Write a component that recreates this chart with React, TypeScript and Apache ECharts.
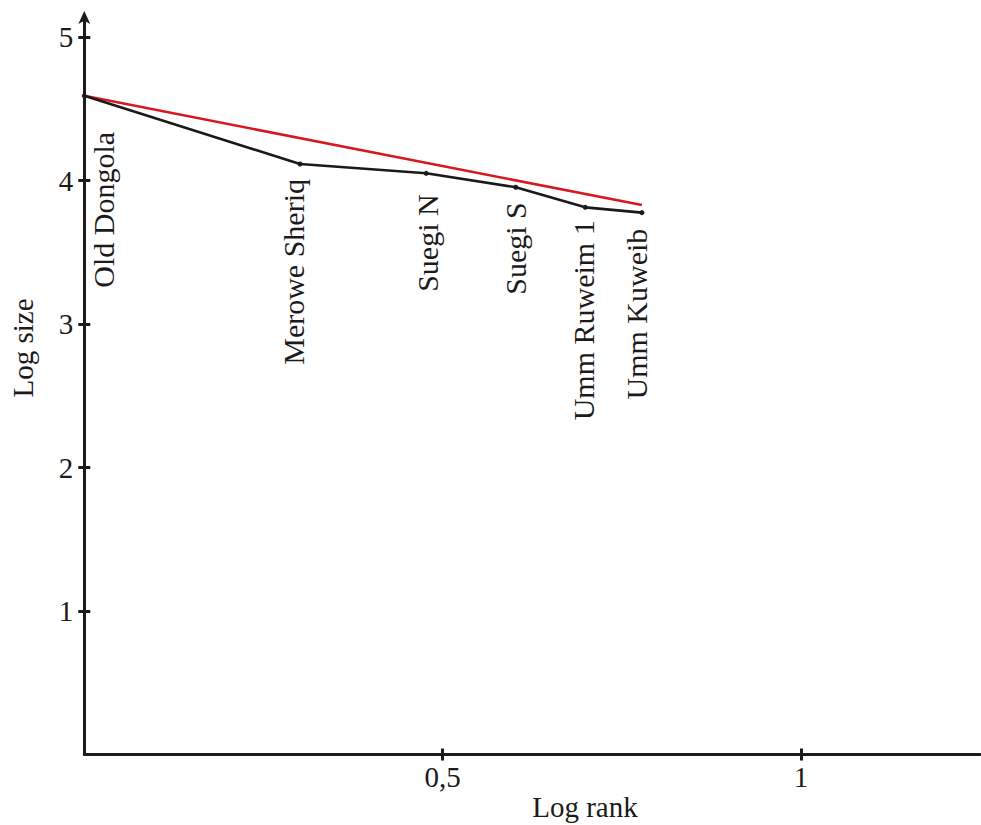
import React, { useEffect, useRef } from "react";
import * as echarts from "echarts";

// ---- data ----
const siteNames = ["Old Dongola", "Merowe Sheriq", "Suegi N", "Suegi S", "Umm Ruweim 1", "Umm Kuweib"];
const logRank = [0, 0.301, 0.477, 0.602, 0.699, 0.778];
const logSize = [4.59, 4.115, 4.05, 3.953, 3.813, 3.776];
const fitLineX = [0, 0.778];
const fitLineY = [4.59, 3.829];
const xTickValues = [0.5, 1];
const xTickLabels = ["0,5", "1"];
const yTickValues = [1, 2, 3, 4, 5];
const xAxisTitle = "Log rank";
const yAxisTitle = "Log size";

// ---- layout (label offsets from their point, in px) ----
const labelOffsets: [number, number][] = [
  [19, 36],
  [-6.5, 15],
  [1, 21],
  [0, 15],
  [-2, 13],
  [-5.5, 16],
];

const FONT = "Liberation Serif";
const INK = "#1c1a1b";
const FS = 29;
const LABEL_FS = 30;

export default function App() {
  const ref = useRef<HTMLDivElement>(null);
  useEffect(() => {
    if (!ref.current) return;
    const chart = echarts.init(ref.current, null, { renderer: "svg" });
    const gridLeft = 84.3;
    const gridRight = 981 - (84.3 + 716.7 * 1.25);
    const yMax = 5.14;
    const gridBottom = 825 - 754.5;
    const gridTop = 754.5 - 143.5 * yMax;

    const pointData = logRank.map((x, i) => [x, logSize[i]]);
    const fitData = fitLineX.map((x, i) => [x, fitLineY[i]]);

    const option: any = {
      animation: false,
      backgroundColor: "#ffffff",
      textStyle: { fontFamily: FONT },
      grid: {
        left: gridLeft,
        right: gridRight,
        top: gridTop,
        bottom: gridBottom,
        containLabel: false,
        outerBoundsMode: "none",
      },
      xAxis: [
        {
          type: "value",
          min: 0,
          max: 1.25,
          position: "bottom",
          splitLine: { show: false },
          axisLine: { show: true, onZero: false, lineStyle: { color: INK, width: 3 } },
          axisTick: { show: true, inside: false, length: 6, customValues: xTickValues, lineStyle: { color: INK, width: 3 } },
          axisLabel: {
            show: true,
            customValues: xTickValues,
            margin: 8,
            color: INK,
            fontFamily: FONT,
            fontSize: FS,
            formatter: (v: number) => {
              const idx = xTickValues.indexOf(v);
              return idx >= 0 ? xTickLabels[idx] : "";
            },
          },
        },
        {
          type: "value",
          min: 0,
          max: 1.25,
          position: "bottom",
          splitLine: { show: false },
          axisLine: { show: false },
          axisTick: { show: true, inside: true, length: 6, customValues: xTickValues, lineStyle: { color: INK, width: 3 } },
          axisLabel: { show: false },
        },
      ],
      yAxis: [
        {
          type: "value",
          min: 0,
          max: yMax,
          position: "left",
          splitLine: { show: false },
          axisLine: {
            show: true,
            onZero: false,
            symbol: ["none", "arrow"],
            symbolSize: [9, 13],
            symbolOffset: [0, 6],
            lineStyle: { color: INK, width: 3 },
          },
          axisTick: { show: true, inside: false, length: 6, customValues: yTickValues, lineStyle: { color: INK, width: 3 } },
          axisLabel: {
            show: true,
            customValues: yTickValues,
            margin: 11,
            color: INK,
            fontFamily: FONT,
            fontSize: FS,
            formatter: (v: number) => String(v),
          },
        },
        {
          type: "value",
          min: 0,
          max: yMax,
          position: "left",
          splitLine: { show: false },
          axisLine: { show: false },
          axisTick: { show: true, inside: true, length: 6, customValues: yTickValues, lineStyle: { color: INK, width: 3 } },
          axisLabel: { show: false },
        },
      ],
      graphic: [
        {
          type: "text",
          x: 22.5,
          y: 348,
          rotation: Math.PI / 2,
          style: {
            text: yAxisTitle,
            fontFamily: FONT,
            fontSize: FS,
            fill: INK,
            align: "center",
            verticalAlign: "middle",
          },
        },
        {
          type: "text",
          x: 585,
          y: 806.5,
          style: {
            text: xAxisTitle,
            fontFamily: FONT,
            fontSize: FS,
            fill: INK,
            align: "center",
            verticalAlign: "middle",
          },
        },
      ],
      series: [
        {
          type: "line",
          name: "fit",
          data: fitData,
          symbol: "none",
          z: 2,
          lineStyle: { color: "#d7191f", width: 2.6 },
          silent: true,
        },
        {
          type: "line",
          name: "sites",
          data: pointData,
          symbol: "circle",
          symbolSize: 5,
          z: 3,
          itemStyle: { color: "#1a1a1a" },
          lineStyle: { color: "#1a1a1a", width: 2.6 },
          silent: true,
        },
        {
          type: "custom",
          name: "labels",
          data: pointData,
          z: 4,
          silent: true,
          renderItem: (params: any, api: any) => {
            const pt = api.coord([api.value(0), api.value(1)]);
            const i = params.dataIndex;
            const off = labelOffsets[i];
            return {
              type: "text",
              x: pt[0] + off[0],
              y: pt[1] + off[1],
              rotation: Math.PI / 2,
              style: {
                text: siteNames[i],
                fontFamily: FONT,
                fontSize: LABEL_FS,
                fill: INK,
                align: "right",
                verticalAlign: "middle",
              },
            };
          },
        },
      ],
    };
    chart.setOption(option);
    return () => chart.dispose();
  }, []);
  return (
    <div
      ref={ref}
      style={{ position: "absolute", left: 0, top: 0, width: 981, height: 825 }}
    />
  );
}
